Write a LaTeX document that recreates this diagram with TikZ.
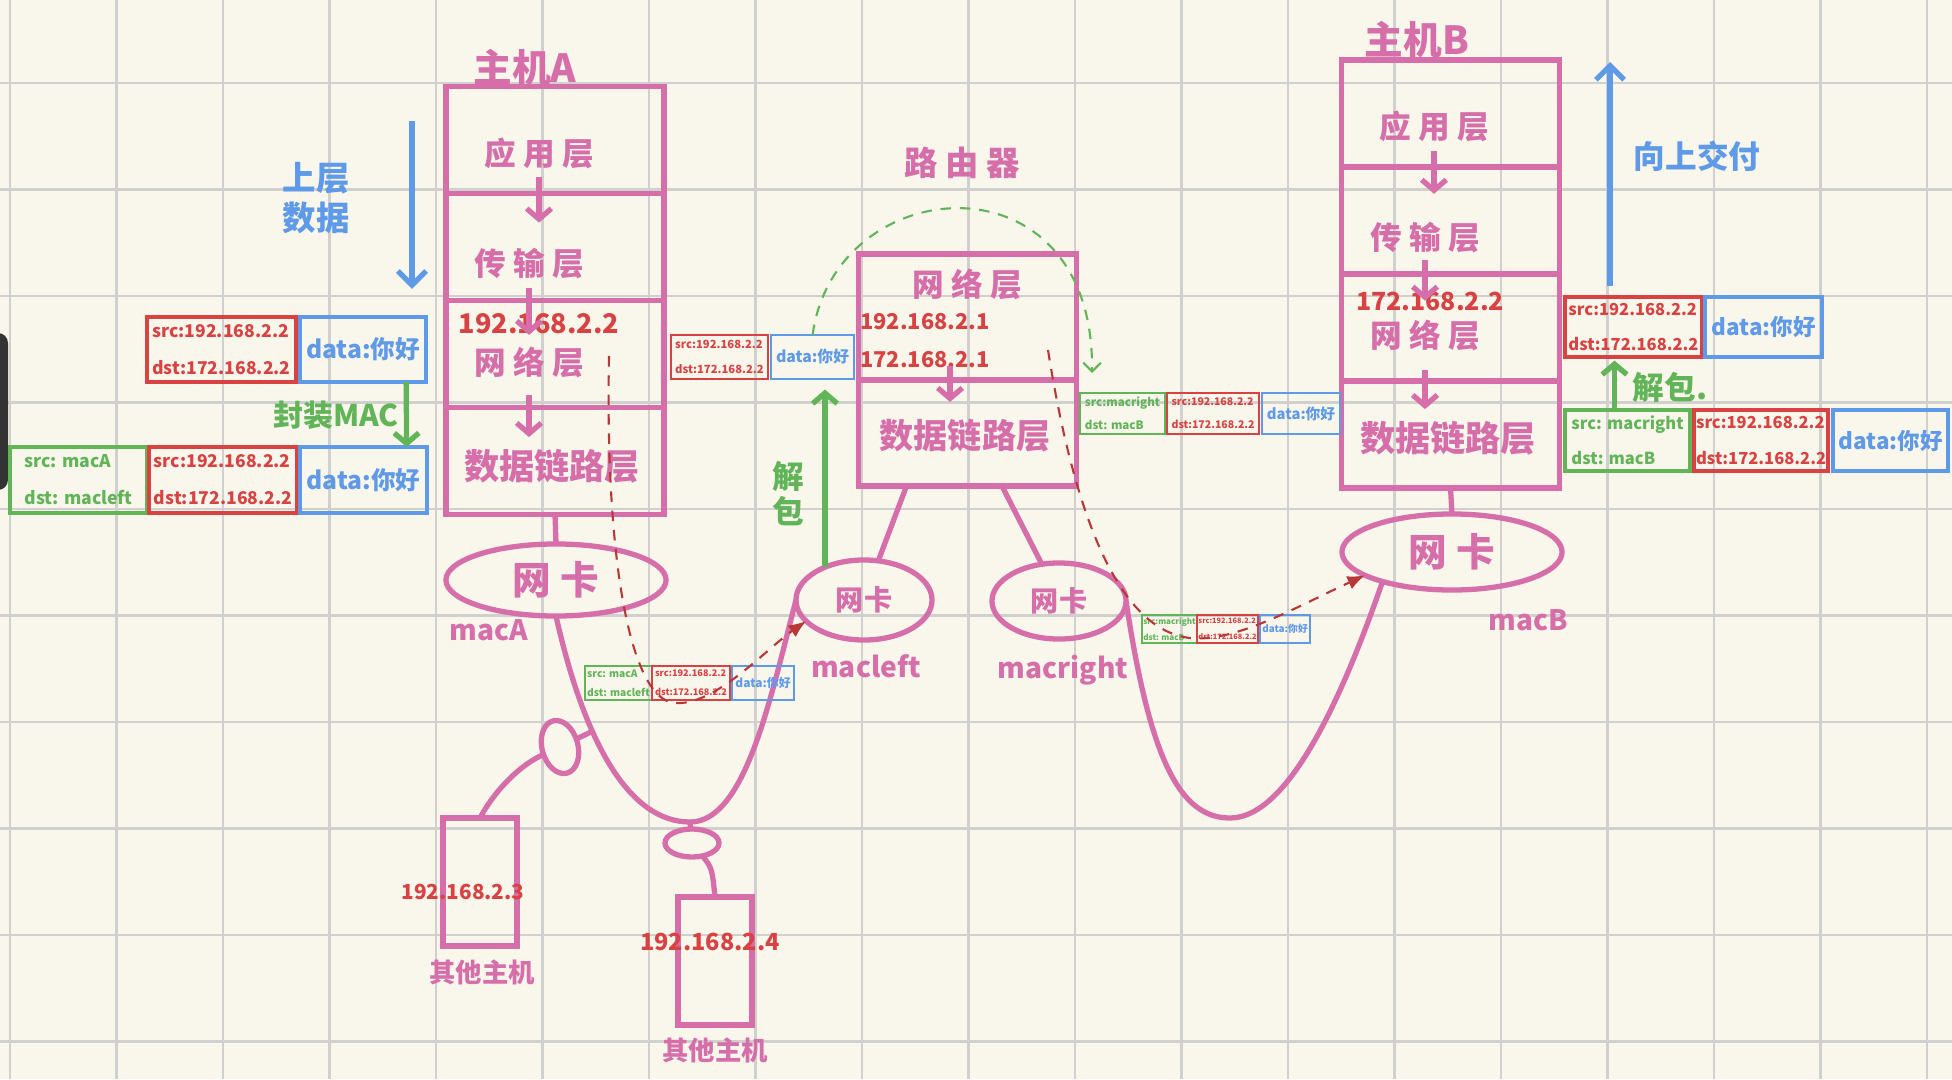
\documentclass[tikz,border=0pt]{standalone}
\usepackage{fontspec}
\setmainfont{Noto Sans CJK SC}
\usetikzlibrary{positioning,shapes.geometric,arrows.meta,calc}

\definecolor{inkpink}{RGB}{214,110,170}
\definecolor{inkred}{RGB}{216,66,66}
\definecolor{inkgreen}{RGB}{98,180,88}
\definecolor{inkblue}{RGB}{94,154,232}
\definecolor{paper}{RGB}{249,246,236}
\definecolor{gridgray}{RGB}{208,208,206}

\newcommand\pf[2]{\bfseries\fontsize{#1}{#2}\selectfont}

\begin{document}
\begin{tikzpicture}
  [x=0.01cm,y=-0.01cm,
   every node/.style={inner sep=0pt,outer sep=0pt},
   gridln/.style={draw=gridgray,line width=0.8pt},
   layer/.style={draw=inkpink,line width=1.5pt,minimum width=2.18cm,minimum height=1.07cm},
   lbl/.style={text=inkpink,font=\pf{#1}{#1}},
   ip/.style={text=inkred,font=\pf{#1}{#1}},
   nic/.style={ellipse,draw=inkpink,line width=1.5pt,text=inkpink},
   tap/.style={ellipse,draw=inkpink,line width=1.5pt},
   pc/.style={draw=inkpink,line width=1.5pt,minimum width=0.74cm,minimum height=1.28cm},
   wire/.style={draw=inkpink,line width=1.5pt},
   parr/.style={draw=inkpink,line width=1.5pt,-{Straight Barb[length=3pt,width=7pt]}},
   pk/.style={draw=#1,text=#1,align=left,line width=1.1pt},
   spk/.style={draw=#1,text=#1,align=left,line width=0.6pt},
   gtxt/.style={text=inkgreen},
   btxt/.style={text=inkblue},
   garr/.style={draw=inkgreen,line width=1.5pt,-{Straight Barb[length=3pt,width=7pt]}},
   barr/.style={draw=inkblue,line width=1.5pt,-{Straight Barb[length=4pt,width=8pt]}},
   rdash/.style={draw=inkred!85!black,line width=0.6pt,dash pattern=on 3pt off 2.5pt,-{Latex[length=5pt,width=4pt]}},
   gdash/.style={draw=inkgreen,line width=0.6pt,dash pattern=on 3pt off 2.5pt,-{Straight Barb[length=2.5pt,width=5pt]}}]

  % paper and grid
  \useasboundingbox (0,0) rectangle (1952,1079);
  \fill[paper] (0,0) rectangle (1952,1079);
  \foreach \gx in {10,116.5,...,1952} \draw[gridln] (\gx,0) -- (\gx,1079);
  \foreach \gy in {83,189.5,...,1079} \draw[gridln] (0,\gy) -- (1952,\gy);
  \fill[black!80,rounded corners=0.1cm] (-20,333) rectangle (8,490);

  % host A
  \foreach \n/\y in {1/140,2/247,3/354,4/461}
    \node[layer] (ha\n) at (555,\y) {};
  \node[lbl=11] (ta0) at (525,68) {主机A};
  \node[lbl=9] (ta1) at (539,153) {应 用 层};
  \node[lbl=9] (ta2) at (529,264) {传 输 层};
  \node[ip=7.7] (ta3ip) at (539,324) {192.168.2.2};
  \node[lbl=9] (ta3) at (529,362) {网 络 层};
  \node[lbl=10] (ta4) at (552,466) {数据链路层};

  % router
  \node[layer,minimum height=1.26cm] (rnl) at (967.5,317) {};
  \node[layer,minimum height=1.06cm] (rdl) at (967.5,433) {};
  \node[lbl=9.5] (tr0) at (962,163) {路 由 器};
  \node[lbl=9] (tr1) at (967,284) {网 络 层};
  \node[ip=6.2] (tr1a) at (925,322) {192.168.2.1};
  \node[ip=6.2] (tr1b) at (925,360) {172.168.2.1};
  \node[lbl=9.7] (tr2) at (965,436) {数据链路层};

  % host B
  \foreach \n/\y in {1/113.5,2/220.5,3/327.5,4/434.5}
    \node[layer] (hb\n) at (1450.5,\y) {};
  \node[lbl=11] (tb0) at (1417,40) {主机B};
  \node[lbl=9] (tb1) at (1434,126) {应 用 层};
  \node[lbl=9] (tb2) at (1425,238) {传 输 层};
  \node[ip=7.1] (tb3ip) at (1430,301) {172.168.2.2};
  \node[lbl=9] (tb3) at (1425,335) {网 络 层};
  \node[lbl=10] (tb4) at (1448,438) {数据链路层};

  \foreach \from/\to/\s/\e in {ta1/ta2/2.5/7.4,ta2/ta3ip/2.5/-6,ta3/ta4/5/3.4,
    tb1/tb2/2.8/8.2,tb2/tb3ip/2/-2.6,tb3/tb4/5.7/3.4}
    \draw[parr,shorten <=\s pt,shorten >=\e pt] (\from.south) -- (\from.south |- \to.north);
  \draw[parr,shorten <=1.7pt,shorten >=5pt] ([xshift=0.25cm]tr1b.center) -- ([xshift=0.25cm]tr1b.center |- tr2.north);

  % network cards
  \node[nic,minimum width=2.2cm,minimum height=0.72cm,font=\pf{11}{11}] (nicA) at (556,580) {网 卡};
  \node[nic,minimum width=1.36cm,minimum height=0.8cm,font=\pf{8}{8}] (nicL) at (864,600) {网卡};
  \node[nic,minimum width=1.34cm,minimum height=0.76cm,font=\pf{8}{8}] (nicR) at (1059,601) {网卡};
  \node[nic,minimum width=2.2cm,minimum height=0.76cm,font=\pf{11}{11}] (nicB) at (1452,552) {网 卡};
  \node[lbl=8] (macA) at (489,630) {macA};
  \node[lbl=8] (macL) at (866,666) {macleft};
  \node[lbl=8] (macR) at (1063,670) {macright};
  \node[lbl=8] (macB) at (1528,620) {macB};

  % other hosts
  \node[pc] (h3) at (480,882) {};
  \node[pc] (h4) at (715,961) {};
  \node[ip=5.9] (ip3) at (463,892) {192.168.2.3};
  \node[ip=6.7] (ip4) at (710,942) {192.168.2.4};
  \node[lbl=7.5] (o3) at (482,972) {其他主机};
  \node[lbl=7.5] (o4) at (715,1050) {其他主机};
  \node[tap,minimum width=0.36cm,minimum height=0.54cm,rotate=15] (tap1) at (560,747) {};
  \node[tap,minimum width=0.54cm,minimum height=0.28cm] (tap2) at (692,843) {};

  % wires
  \draw[wire] (ha4.south) -- (nicA.north);
  \draw[wire] (hb4.south) -- (nicB.north);
  \draw[wire] (rdl.221) -- (nicL.70);
  \draw[wire] (rdl.303) -- (nicR.115);
  \coordinate (ubot) at (690,822);
  \draw[wire] (nicA.south) .. controls (585,745) and (630,822) .. (ubot) coordinate[pos=0.35] (ul)
    .. controls (745,822) and (770,700) .. (nicL.west);
  \draw[wire] (tap1) -- (ul);
  \draw[wire] (ubot) -- (tap2);
  \draw[wire] (h3.north) .. controls (495,790) and (520,765) .. (tap1);
  \draw[wire] (tap2) .. controls (712,868) .. (h4.north);
  \draw[wire] (nicR.east) .. controls (1150,760) and (1180,818) .. (1230,818)
    .. controls (1290,818) and (1345,690) .. (nicB.203);

  % packets
  \node[pk=inkred,minimum width=1.49cm,minimum height=0.65cm,font=\pf{5}{10.5}] (pa2) at (221.5,349.5) {src:192.168.2.2\\dst:172.168.2.2};
  \node[pk=inkblue,minimum width=1.26cm,minimum height=0.65cm,font=\pf{7}{7},right=0.04cm of pa2] (pa3) {data:你好};
  \node[pk=inkgreen,minimum width=1.37cm,minimum height=0.66cm,font=\pf{5}{10.5}] (pb1) at (78.5,480) {src: macA\\dst: macleft};
  \node[pk=inkred,minimum width=1.48cm,minimum height=0.66cm,font=\pf{5}{10.5},right=0.02cm of pb1] (pb2) {src:192.168.2.2\\dst:172.168.2.2};
  \node[pk=inkblue,minimum width=1.27cm,minimum height=0.66cm,font=\pf{7}{7},right=0.03cm of pb2] (pb3) {data:你好};

  \node[pk=inkred,minimum width=1.37cm,minimum height=0.6cm,font=\pf{4.7}{10}] (pc2) at (1633.5,327) {src:192.168.2.2\\dst:172.168.2.2};
  \node[pk=inkblue,minimum width=1.17cm,minimum height=0.6cm,font=\pf{6.4}{6.4},right=0.03cm of pc2] (pc3) {data:你好};
  \node[pk=inkgreen,minimum width=1.25cm,minimum height=0.61cm,font=\pf{4.7}{10}] (pd1) at (1627.5,440.5) {src: macright\\dst: macB};
  \node[pk=inkred,minimum width=1.34cm,minimum height=0.61cm,font=\pf{4.7}{10},right=0.04cm of pd1] (pd2) {src:192.168.2.2\\dst:172.168.2.2};
  \node[pk=inkblue,minimum width=1.15cm,minimum height=0.61cm,font=\pf{6.4}{6.4},right=0.05cm of pd2] (pd3) {data:你好};

  \node[spk=inkred,minimum width=0.97cm,minimum height=0.44cm,font=\pf{3.2}{7}] (p2r) at (719.5,357) {src:192.168.2.2\\dst:172.168.2.2};
  \node[spk=inkblue,minimum width=0.83cm,minimum height=0.44cm,font=\pf{4.5}{4.5},right=0.03cm of p2r] (p2b) {data:你好};
  \node[spk=inkgreen,minimum width=0.85cm,minimum height=0.41cm,font=\pf{3.3}{6.5}] (p3g) at (1122.5,413.5) {src:macright\\dst: macB};
  \node[spk=inkred,minimum width=0.92cm,minimum height=0.41cm,font=\pf{3}{6.5},right=0.02cm of p3g] (p3r) {src:192.168.2.2\\dst:172.168.2.2};
  \node[spk=inkblue,minimum width=0.78cm,minimum height=0.41cm,font=\pf{4.2}{4.2},right=0.03cm of p3r] (p3b) {data:你好};
  \node[spk=inkgreen,minimum width=0.67cm,minimum height=0.34cm,font=\pf{2.9}{5.5}] (p1g) at (618.5,683) {src: macA\\dst: macleft};
  \node[spk=inkred,minimum width=0.78cm,minimum height=0.34cm,font=\pf{2.6}{5.5},right=0cm of p1g] (p1r) {src:192.168.2.2\\dst:172.168.2.2};
  \node[spk=inkblue,minimum width=0.62cm,minimum height=0.34cm,font=\pf{3.4}{3.4},right=0.02cm of p1r] (p1b) {data:你好};
  \node[spk=inkgreen,minimum width=0.55cm,minimum height=0.28cm,font=\pf{2.3}{4.5}] (p4g) at (1169.5,629) {src:macright\\dst: macB};
  \node[spk=inkred,minimum width=0.61cm,minimum height=0.28cm,font=\pf{2.1}{4.5},right=0cm of p4g] (p4r) {src:192.168.2.2\\dst:172.168.2.2};
  \node[spk=inkblue,minimum width=0.5cm,minimum height=0.28cm,font=\pf{2.8}{2.8},right=0.02cm of p4r] (p4b) {data:你好};

  % notes and flow arrows
  \node[btxt,align=center,font=\pf{9.5}{11.5}] (upd) at (316,198) {上层\\数据};
  \coordinate (dn) at (412,121);
  \draw[barr,shorten >=8pt] (dn) -- (dn |- pa3.north);
  \node[btxt,font=\pf{9}{9}] (deliver) at (1697,156) {向上交付};
  \coordinate (up) at (1610,62);
  \draw[barr,shorten <=3pt] (up |- pc2.north) -- (up);
  \node[gtxt,font=\pf{8.5}{8.5}] (encap) at (336,415) {封装MAC};
  \draw[garr] ([xshift=0.43cm]pa3.south) -- ([xshift=0.43cm]pb3.north);
  \node[gtxt,align=center,font=\pf{9}{10}] (unpk1) at (788,494) {解\\包};
  \draw[garr,shorten >=3pt] (nicL.140) -- (nicL.140 |- p2b.south);
  \node[gtxt,font=\pf{9}{9}] (unpk2) at (1670,387) {解包.};
  \draw[garr,shorten >=1pt] ([xshift=-0.13cm]pd1.north) -- ([xshift=-0.13cm]pd1.north |- pc2.south);
  \draw[gdash] (p2b.north) .. controls (835,170) and (1095,150) .. ($(p3g.north west)+(12,-20)$);

  % frame paths
  \coordinate (d1) at (609,356);
  \coordinate (d2) at (1048,350);
  \draw[rdash] (d1) .. controls (605,560) and (630,700) .. (675,703)
    .. controls (715,706) and (765,650) .. (nicL.200);
  \draw[rdash] (d2) .. controls (1075,520) and (1120,630) .. (1190,638)
    .. controls (1235,643) and (1300,605) .. (nicB.195);
\end{tikzpicture}
\end{document}
